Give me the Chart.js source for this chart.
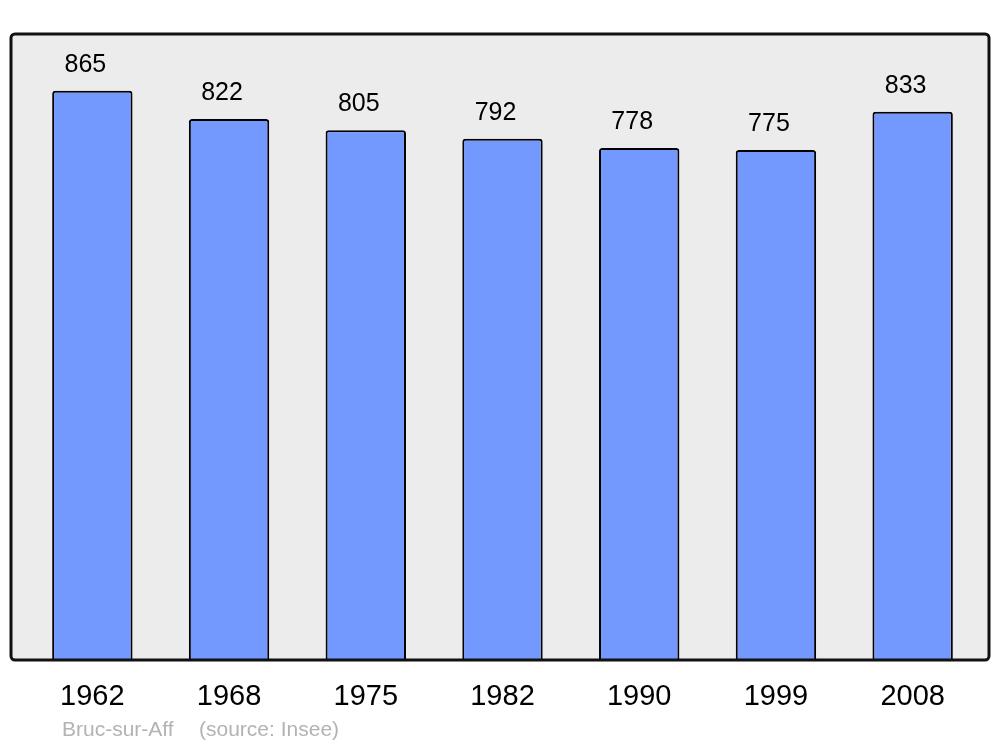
<!DOCTYPE html>
<html>
<head>
<meta charset="utf-8">
<script src="https://cdn.jsdelivr.net/npm/chart.js@4/dist/chart.umd.min.js"></script>
<style>
  html, body { margin: 0; padding: 0; background: #fff; }
  #wrap { width: 1000px; height: 747px; }
</style>
</head>
<body>
<div id="wrap"><canvas id="popChart" width="1000" height="747"></canvas></div>
<script>
// Données de population (Insee)
const years = ['1962', '1968', '1975', '1982', '1990', '1999', '2008'];
const population = [865, 822, 805, 792, 778, 775, 833];
const commune = 'Bruc-sur-Aff';
const sourceText = '(source: Insee)';

// cadre gris derrière les barres
const framePlugin = {
    id: 'frame',
    box: { left: 11, top: 34, right: 989, bottom: 660 },
    path(ctx) {
        const b = this.box;
        ctx.beginPath();
        ctx.roundRect(b.left, b.top, b.right - b.left, b.bottom - b.top, 4);
    },
    beforeDatasetsDraw(chart) {
        const ctx = chart.ctx;
        ctx.save();
        this.path(ctx);
        ctx.fillStyle = '#ececec';
        ctx.fill();
        ctx.restore();
    },
    afterDatasetsDraw(chart) {
        const ctx = chart.ctx;
        ctx.save();
        this.path(ctx);
        ctx.lineWidth = 3;
        ctx.strokeStyle = '#111';
        ctx.stroke();

        // valeurs au-dessus des barres
        const meta = chart.getDatasetMeta(0);
        ctx.fillStyle = '#000';
        ctx.font = '25px "Liberation Sans", Arial, sans-serif';
        ctx.textAlign = 'center';
        ctx.textBaseline = 'middle';
        meta.data.forEach((bar, i) => {
            ctx.fillText(String(population[i]), bar.x - 7, bar.y - 26);
        });

        // légende en bas
        ctx.fillStyle = '#b3b3b3';
        ctx.font = '21px "Liberation Sans", Arial, sans-serif';
        ctx.textAlign = 'left';
        ctx.fillText(commune, 62, 730);
        ctx.fillText(sourceText, 199, 730);
        ctx.restore();
    }
};

new Chart(document.getElementById('popChart'), {
    type: 'bar',
    data: {
        labels: years,
        datasets: [{
            data: population,
            backgroundColor: '#7399ff',
            borderColor: '#000',
            borderWidth: 2,
            borderSkipped: 'bottom',
            borderRadius: { topLeft: 3, topRight: 3 },
            barPercentage: 0.588,
            categoryPercentage: 1
        }]
    },
    options: {
        responsive: false,
        animation: false,
        layout: { padding: { left: 24, right: 19, top: 34, bottom: 15 } },
        plugins: {
            legend: { display: false },
            tooltip: { enabled: false }
        },
        scales: {
            x: {
                grid: { display: false, drawTicks: false },
                border: { display: false },
                ticks: {
                    color: '#000',
                    padding: 18,
                    font: { family: '"Liberation Sans", Arial, sans-serif', size: 29 }
                }
            },
            y: {
                display: false,
                min: 0,
                max: 951
            }
        }
    },
    plugins: [framePlugin]
});
</script>
</body>
</html>
